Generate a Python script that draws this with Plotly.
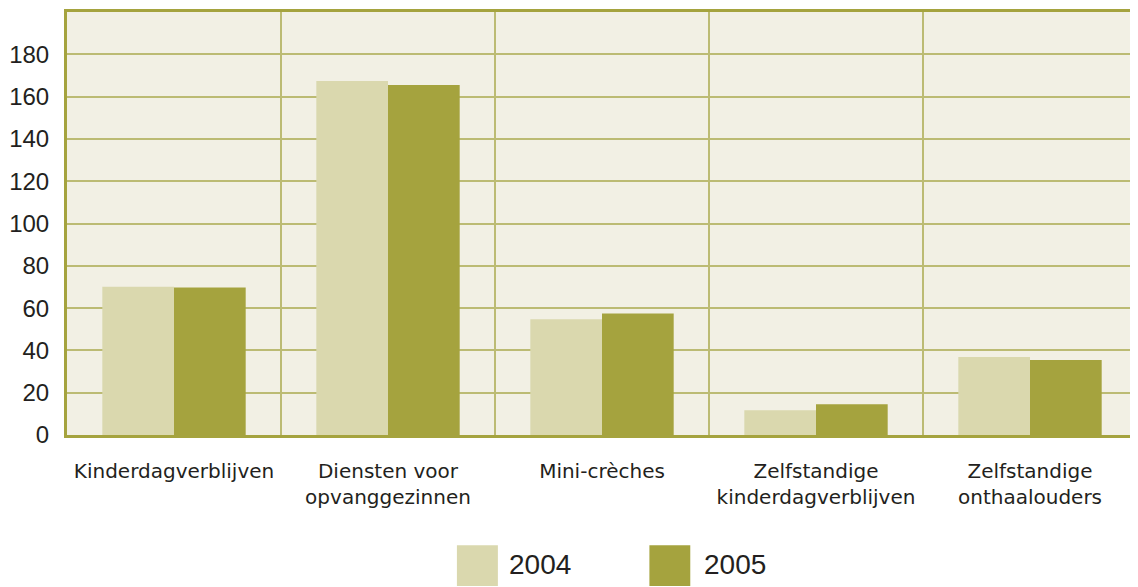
import plotly.graph_objects as go

# Colours
BG = "#f2f0e4"
LIGHT = "#dad8ae"
DARK = "#a5a33e"
GRID = "#bcbb73"
TEXT = "#231f20"

categories = [
    "Kinderdagverblijven",
    "Diensten voor<br>opvanggezinnen",
    "Mini-crèches",
    "Zelfstandige<br>kinderdagverblijven",
    "Zelfstandige<br>onthaalouders",
]
values_2004 = [70.1, 167.4, 54.7, 11.7, 36.9]
values_2005 = [69.7, 165.5, 57.5, 14.5, 35.5]
series_names = ["2004", "2005"]
y_ticks = [0, 20, 40, 60, 80, 100, 120, 140, 160, 180]

fig = go.Figure()
fig.add_trace(go.Bar(x=categories, y=values_2004, name=series_names[0],
                     marker=dict(color=LIGHT, line_width=0)))
fig.add_trace(go.Bar(x=categories, y=values_2005, name=series_names[1],
                     marker=dict(color=DARK, line_width=0)))

# the page body has an 8px margin, so the figure is a bit smaller than the window
fig.update_layout(
    width=1130, height=579,
    margin=dict(l=56, r=1, t=1, b=152),
    paper_bgcolor="white",
    plot_bgcolor=BG,
    barmode="group",
    bargap=0.33,
    bargroupgap=0,
    showlegend=False,
    font=dict(family="Liberation Sans", color=TEXT),
)

fig.update_xaxes(
    tickson="boundaries",
    showgrid=True, gridcolor=GRID, gridwidth=1.5,
    showline=True, linecolor=DARK, linewidth=3, mirror=True,
    ticks="", ticklabelstandoff=16,
    tickfont=dict(family="DejaVu Sans", size=20, color=TEXT),
)
fig.update_yaxes(
    range=[0, 200], tickvals=y_ticks,
    showgrid=True, gridcolor=GRID, gridwidth=1.5,
    showline=True, linecolor=DARK, linewidth=3,
    zeroline=False, ticks="", ticklabelstandoff=10,
    tickfont=dict(family="Liberation Sans", size=24, color=TEXT),
)

# hand-made legend with large swatches, as in the original
legend_items = [(0.3644, 0.4027, 0.4110, LIGHT), (0.5443, 0.5825, 0.5930, DARK)]
for name, (sx0, sx1, tx, col) in zip(series_names, legend_items):
    fig.add_shape(type="rect", xref="paper", yref="paper",
                  x0=sx0, x1=sx1, y0=-0.2606, y1=-0.3568,
                  fillcolor=col, line_width=0)
    fig.add_annotation(text=name, xref="paper", yref="paper",
                       x=tx, y=-0.305, xanchor="left", yanchor="middle",
                       showarrow=False, font=dict(size=28, color=TEXT))

fig.write_html("out.html")
